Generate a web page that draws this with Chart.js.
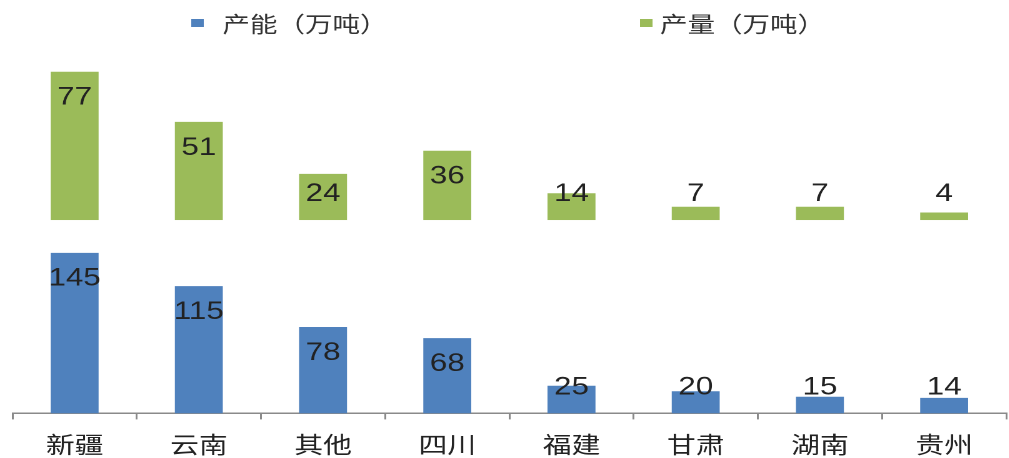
<!DOCTYPE html>
<html>
<head>
<meta charset="utf-8">
<script src="https://cdn.jsdelivr.net/npm/chart.js@4.4.1/dist/chart.umd.min.js"></script>
<style>
    html, body { margin: 0; padding: 0; background: #fff; overflow: hidden; }
    /* the original picture is stretched sideways, so the whole canvas is too */
    #wrap { width: 807px; height: 458px; transform: scaleX(1.25); transform-origin: 0 0; }
</style>
</head>
<body>
<div id="wrap"><canvas id="myChart" width="807" height="458"></canvas></div>
<script>
const provinces = ['新疆', '云南', '其他', '四川', '福建', '甘肃', '湖南', '贵州'];
const capacity = [145, 115, 78, 68, 25, 20, 15, 14];
const output = [77, 51, 24, 36, 14, 7, 7, 4];
const seriesNames = ['产能（万吨）', '产量（万吨）'];
const seriesColors = ['#4f81bd', '#9bbb59'];

const cjkFont = '"Noto Sans CJK SC", "Noto Sans", sans-serif';
const numFont = '"Liberation Sans", Arial, sans-serif';

// numbers inside the top of each bar, pushed up when the bar is too short
const barLabels = {
    id: 'barLabels',
    afterDatasetsDraw(chart) {
        const ctx = chart.ctx;
        ctx.save();
        ctx.font = '25px ' + numFont;
        ctx.fillStyle = '#222';
        ctx.textAlign = 'center';
        ctx.textBaseline = 'middle';
        chart.data.datasets.forEach(function(ds, i) {
            chart.getDatasetMeta(i).data.forEach(function(bar, j) {
                let y = Math.min(bar.y + 26, bar.base - 26);
                ctx.fillText(ds.data[j], bar.x, y);
            });
        });
        ctx.restore();
    }
};

// legend drawn by hand, the two items sit far apart
const legendItems = {
    id: 'legendItems',
    afterDraw(chart) {
        const ctx = chart.ctx;
        const spots = [{box: 153, text: 178}, {box: 512, text: 528}];
        ctx.save();
        ctx.font = '22px ' + cjkFont;
        ctx.textBaseline = 'middle';
        spots.forEach(function(s, i) {
            ctx.fillStyle = seriesColors[i];
            ctx.fillRect(s.box, 19, 10, 8);
            ctx.fillStyle = '#333';
            ctx.fillText(seriesNames[i], s.text, 24);
        });
        ctx.restore();
    }
};

const chartSettings = {
    type: 'bar',
    data: {
        labels: provinces,
        datasets: [
            {
                label: seriesNames[0],
                data: capacity,
                backgroundColor: seriesColors[0],
                yAxisID: 'y'
            },
            {
                label: seriesNames[1],
                data: output,
                backgroundColor: seriesColors[1],
                yAxisID: 'y2'
            }
        ]
    },
    options: {
        responsive: false,
        devicePixelRatio: 2,
        animation: false,
        grouped: false,
        barPercentage: 0.386,
        categoryPercentage: 1,
        layout: {
            padding: {top: 55, left: 10, right: 2, bottom: -11}
        },
        plugins: {
            legend: {display: false},
            tooltip: {enabled: false}
        },
        scales: {
            x: {
                offset: true,
                grid: {
                    display: true,
                    offset: true,
                    drawOnChartArea: false,
                    drawTicks: true,
                    tickLength: 6,
                    color: '#8a8a8a',
                    lineWidth: 1.5
                },
                border: {color: '#8a8a8a', width: 1.5},
                ticks: {
                    color: '#222',
                    padding: 11,
                    font: {size: 23, family: cjkFont}
                }
            },
            y: {
                type: 'linear',
                position: 'left',
                stack: 'panel',
                stackWeight: 193,
                min: 0,
                max: 174.5,
                display: false
            },
            y2: {
                type: 'linear',
                position: 'left',
                stack: 'panel',
                stackWeight: 165,
                min: 0,
                max: 85.7,
                display: false
            }
        }
    },
    plugins: [barLabels, legendItems]
};

window.onload = function() {
    var ctx = document.getElementById('myChart').getContext('2d');
    var myChart = new Chart(ctx, chartSettings);
};
</script>
</body>
</html>
